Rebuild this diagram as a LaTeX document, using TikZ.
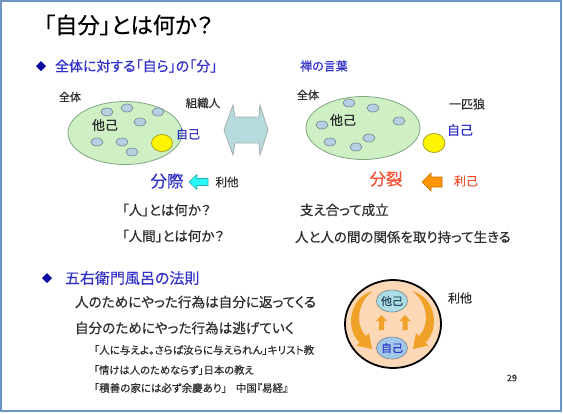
\documentclass[tikz,border=0pt]{standalone}
\usepackage{fontspec}
\setmainfont{Noto Sans CJK JP}[RawFeature=+palt,FakeBold=0.5]
\usetikzlibrary{shapes.geometric}
\definecolor{framec}{RGB}{110,150,195}
\definecolor{tblue}{RGB}{50,50,200}
\definecolor{dblue}{RGB}{10,10,160}
\definecolor{tdark}{RGB}{45,45,45}
\definecolor{tred}{RGB}{250,80,50}
\definecolor{ellf}{RGB}{206,240,196}
\definecolor{elld}{RGB}{130,165,130}
\definecolor{smf}{RGB}{180,208,226}
\definecolor{smd}{RGB}{120,130,140}
\definecolor{yelf}{RGB}{255,245,0}
\definecolor{yeld}{RGB}{170,160,40}
\definecolor{dblf}{RGB}{182,218,222}
\definecolor{dbld}{RGB}{165,175,175}
\definecolor{cyanf}{RGB}{40,250,250}
\definecolor{cyand}{RGB}{40,170,170}
\definecolor{orf}{RGB}{255,150,0}
\definecolor{ord}{RGB}{200,110,0}
\definecolor{peach}{RGB}{253,216,182}
\definecolor{curvf}{RGB}{240,162,40}
\definecolor{tac}{RGB}{172,220,228}
\definecolor{jic}{RGB}{160,200,232}
\definecolor{tealt}{RGB}{40,70,90}
\newcommand\fsz[1]{\fontsize{#1}{#1}\selectfont}
\begin{document}
\begin{tikzpicture}[x=1pt,y=-1pt,
  every node/.style={inner sep=0pt,outer sep=0pt},
  txt/.style={font=\fsz{#1},text=tdark},
  btxt/.style={font=\fsz{#1},text=tblue},
  rtxt/.style={font=\fsz{#1},text=tred},
  bigell/.style={ellipse,draw=elld,fill=ellf,line width=0.8pt,minimum width=114pt,minimum height=63pt},
  smell/.style={ellipse,draw=smd,fill=smf,line width=0.6pt,minimum width=12pt,minimum height=8pt},
  yell/.style={ellipse,draw=yeld,fill=yelf,line width=0.8pt,minimum width=21pt,minimum height=17pt},
  bull/.style={diamond,fill=dblue,minimum size=10pt},
  innerc/.style={ellipse,draw=smd,line width=0.6pt,minimum width=26pt,minimum height=22pt}]
\useasboundingbox (0,0) rectangle (563,413);
\draw[framec,line width=1.3pt] (1,1) rectangle (561,411);
% title
\node[anchor=west,font=\fsz{22.3},text=black] (title) at (44,25) {「自分」とは何か？};
% bullet 1
\node[bull] (d1) at (41,66) {};
\node[btxt=14,anchor=west] (b1) at (55,66) {全体に対する「自ら」の「分」};
\node[btxt=12] (zen) at (324,66) {禅の言葉};
% left ellipse
\node[bigell] (LE) at (125,133) {};
\foreach \p [count=\i] in {(107,112),(127,108),(158,112),(140,122),(97,142),(122,142),(132,152)}
  \node[smell] (ls\i) at \p {};
\node[yell] (LY) at (162,143) {};
\node[txt=11] (lzt) at (70,97) {全体};
\node[txt=11.5] (sosh) at (203,103) {組織人};
\node[txt=13] (lta) at (105,125) {他己};
\node[btxt=12] (lji) at (188,134) {自己};
% double arrow
\draw[draw=dbld,fill=dblf,line width=0.8pt] (233,105) -- (235,117) -- (259,117) -- (260,105) -- (268,130) -- (260,155) -- (259,143) -- (235,143) -- (233,155) -- (224,130) -- cycle;
% right ellipse
\node[bigell] (RE) at (363,128) {};
\foreach \p [count=\i] in {(349,103),(373,108),(322,125),(399,121),(330,142),(369,138),(356,147)}
  \node[smell] (rs\i) at \p {};
\node[yell,minimum width=22pt,minimum height=19pt] (RY) at (434,143) {};
\node[txt=11] (rzt) at (308,95) {全体};
\node[txt=12] (ippi) at (467,104) {一匹狼};
\node[txt=13] (rta) at (343,120) {他己};
\node[btxt=13] (rji) at (460,130) {自己};
% bunsai
\node[btxt=16.5] (bunsai) at (167,181) {分際};
\draw[draw=cyand,fill=cyanf,line width=0.6pt] (189,182) -- (197,174.5) -- (197,178.5) -- (208,178.5) -- (208,185.5) -- (197,185.5) -- (197,189.5) -- cycle;
\node[txt=11.5] (rita1) at (227,182) {利他};
% bunretsu
\node[rtxt=16.5] (bunretsu) at (386,179) {分裂};
\draw[draw=ord,fill=orf,line width=0.6pt] (422,182) -- (431,173) -- (431,177) -- (442,177) -- (442,187) -- (431,187) -- (431,191) -- cycle;
\node[rtxt=12] (riko) at (466,181) {利己};
% questions
\node[txt=13.5,anchor=west] (q1) at (122,210) {「人」とは何か？};
\node[txt=13.5,anchor=west] (q2) at (122,236) {「人間」とは何か？};
\node[txt=13.5,anchor=west] (a1) at (300,210) {支え合って成立};
\node[txt=13.5,anchor=west] (a2) at (295,237) {人と人の間の関係を取り持って生きる};
% bullet 2
\node[bull] (d2) at (47,278) {};
\node[btxt=15,anchor=west] (b2) at (65,278) {五右衛門風呂の法則};
\node[txt=13.6,anchor=west] (l1) at (75,302) {人のためにやった行為は自分に返ってくる};
\node[txt=13.6,anchor=west] (l2) at (75,328) {自分のためにやった行為は逃げていく};
\node[txt=10.5,anchor=west] (s1) at (94,350) {「人に与えよ。さらば汝らに与えられん」キリスト教};
\node[txt=10.3,anchor=west] (s2) at (94,370) {「情けは人のためならず」日本の教え};
\node[txt=10.5,anchor=west] (s3) at (94,388) {「積善の家には必ず余慶あり」\hspace{9pt}中国『易経』};
% circle diagram
\node[ellipse,draw=black,fill=peach,line width=1.8pt,minimum width=96pt,minimum height=88pt] (OC) at (393,324) {};
\node[innerc,fill=tac,font=\fsz{11},text=tealt] (cta) at (392,301) {他己};
\node[innerc,fill=jic,font=\fsz{11},text=tblue] (cji) at (392,348) {自己};
\foreach \xx in {381.5,405}
  \fill[curvf] (\xx,315) -- (\xx+5.5,321) -- (\xx+2.5,321) -- (\xx+2.5,330) -- (\xx-2.5,330) -- (\xx-2.5,321) -- (\xx-5.5,321) -- cycle;
% left curved arrow
\fill[curvf] (373,291) .. controls (349,297) and (345,329) .. (359.5,342.5) -- (356.5,345.5) -- (372,349) -- (369,333) -- (366,336) .. controls (355,325) and (357,302) .. (373,291) -- cycle;
% right curved arrow (mirror)
\fill[curvf] (412,291) .. controls (436,297) and (440,329) .. (425.5,342.5) -- (428.5,345.5) -- (413,349) -- (416,333) -- (419,336) .. controls (430,325) and (428,302) .. (412,291) -- cycle;
\node[txt=12] (rita2) at (460,298) {利他};
\node[font=\fsz{9},text=tdark] (pg) at (512,378) {29};
\end{tikzpicture}
\end{document}
